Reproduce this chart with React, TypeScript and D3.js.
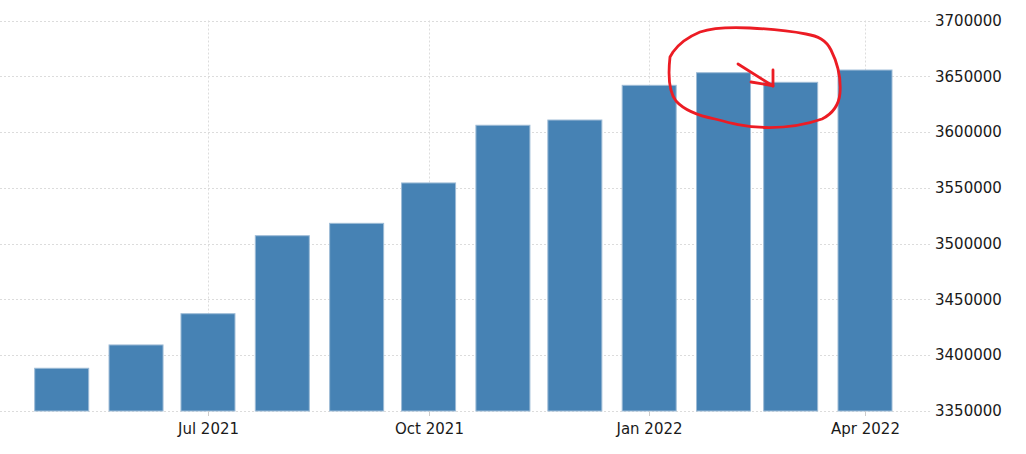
import React from "react";
import * as d3 from "d3";

const months: string[] = [
  "2021-05-01", "2021-06-01", "2021-07-01", "2021-08-01", "2021-09-01", "2021-10-01",
  "2021-11-01", "2021-12-01", "2022-01-01", "2022-02-01", "2022-03-01", "2022-04-01",
];
const values: number[] = [
  3388300, 3409200, 3437200, 3507100, 3518200, 3554400,
  3606100, 3610800, 3641900, 3653200, 3644600, 3655600,
];
const xTickDates: string[] = ["2021-07-01", "2021-10-01", "2022-01-01", "2022-04-01"];
const xTickLabels: string[] = ["Jul 2021", "Oct 2021", "Jan 2022", "Apr 2022"];
const yTicks: number[] = [3350000, 3400000, 3450000, 3500000, 3550000, 3600000, 3650000, 3700000];

const W = 1026;
const H = 454;
const plotLeft = 0;
const plotRight = 932;
const plotTop = 20.5;
const plotBottom = 411;
const barWidth = 54;
const font = "'DejaVu Sans', Verdana, sans-serif";

export default function App() {
  const parse = (s: string) => new Date(s + "T00:00:00Z");
  const x = d3
    .scaleUtc()
    .domain([parse(months[0]), parse(months[months.length - 1])])
    .range([61.7, 865]);
  const y = d3.scaleLinear().domain([3350000, 3700000]).range([plotBottom, plotTop]);

  const ellipse =
    "M670,57 C668,75 669,92 676,101 C684,110 700,116 715,119 C730,123 745,127 765,127.5 C790,128 808,124 822,119 C834,113 839,104 840,93 C841,80 838,64 831,50 C826,40 818,36 806,34 C790,31 770,29 750,28 C730,27 712,28 700,32 C688,37 678,45 673,52 Z";

  return (
    <svg
      width={W}
      height={H}
      style={{ position: "absolute", left: 0, top: 0, background: "#fff" }}
    >
      {/* horizontal gridlines */}
      {yTicks.map((t) => (
        <line
          key={"gy" + t}
          x1={plotLeft}
          x2={plotRight}
          y1={Math.round(y(t)) + 0.5}
          y2={Math.round(y(t)) + 0.5}
          stroke="#dcdcdc"
          strokeWidth={1}
          strokeDasharray="2,2"
        />
      ))}
      {/* vertical gridlines */}
      {xTickDates.map((d) => (
        <line
          key={"gx" + d}
          x1={Math.round(x(parse(d))) + 0.5}
          x2={Math.round(x(parse(d))) + 0.5}
          y1={plotTop}
          y2={plotBottom}
          stroke="#dcdcdc"
          strokeWidth={1}
          strokeDasharray="2,2"
        />
      ))}
      {/* bars */}
      {months.map((m, i) => {
        const cx = x(parse(m));
        const top = y(values[i]);
        return (
          <rect
            key={m}
            x={cx - barWidth / 2}
            y={top}
            width={barWidth}
            height={plotBottom - top}
            fill="#4682b4"
            stroke="#9dbbd6"
            strokeWidth={1}
          />
        );
      })}
      {/* x tick marks and labels */}
      {xTickDates.map((d, i) => {
        const cx = Math.round(x(parse(d))) + 0.5;
        return (
          <g key={"xt" + d}>
            <line x1={cx} x2={cx} y1={plotBottom} y2={plotBottom + 5} stroke="#cccccc" />
            <text
              x={cx}
              y={plotBottom + 23}
              textAnchor="middle"
              fontFamily={font}
              fontSize={15}
              fill="#1a1a1a"
            >
              {xTickLabels[i]}
            </text>
          </g>
        );
      })}
      {/* y labels */}
      {yTicks.map((t) => (
        <text
          key={"yl" + t}
          x={935}
          y={y(t)}
          dy="0.35em"
          fontFamily={font}
          fontSize={15}
          fill="#1a1a1a"
        >
          {d3.format("d")(t)}
        </text>
      ))}
      {/* red annotation */}
      <path d={ellipse} fill="none" stroke="#ec1c24" strokeWidth={2.8} strokeLinejoin="round" />
      <path d="M738,64 L773,86" fill="none" stroke="#ec1c24" strokeWidth={2.8} strokeLinecap="round" />
      <path d="M773,70 L773,86 M751,82 L772,85.5" fill="none" stroke="#ec1c24" strokeWidth={2.8} strokeLinecap="round" />
    </svg>
  );
}
